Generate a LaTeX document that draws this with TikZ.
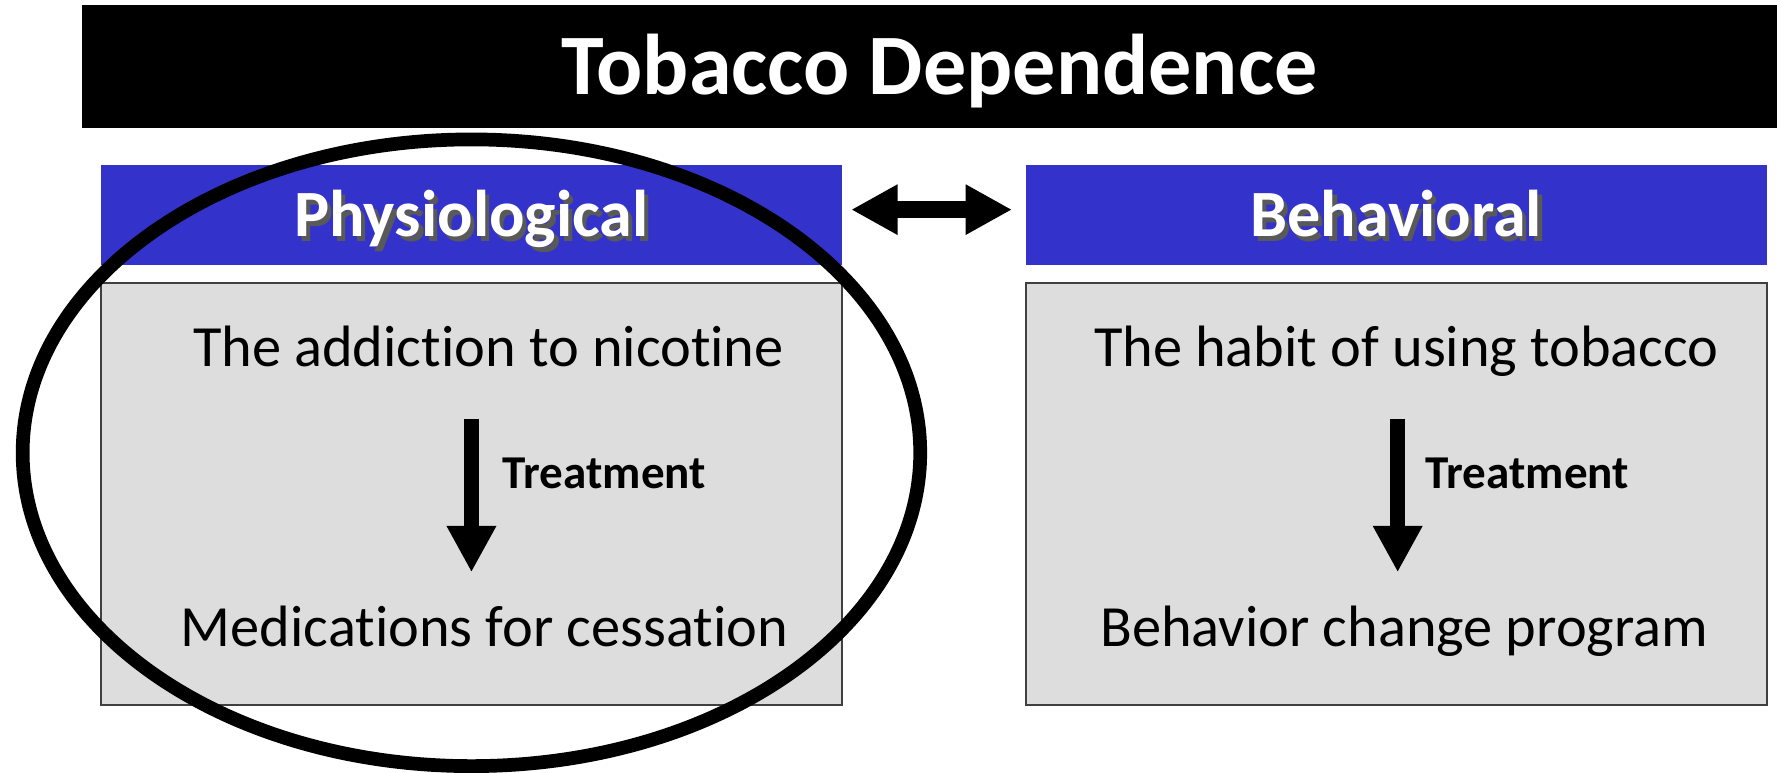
\documentclass[tikz,border=0pt]{standalone}
\usepackage{fontspec}
\setmainfont{Carlito}[Ligatures={NoCommon,NoRequired,NoContextual}]
\usetikzlibrary{
  arrows.meta,
  positioning
}
\definecolor{hdrblue}{RGB}{51,51,204}
\definecolor{panelgray}{RGB}{221,221,221}
\definecolor{edgegray}{RGB}{64,64,64}
\tikzset{
  titlebar/.style={fill=black,text=white,inner sep=0pt,outer sep=0pt,
    minimum width=169.5mm,minimum height=12.27mm,
    font=\fontsize{24.5}{28}\selectfont\bfseries,
    text height=15.9pt,text depth=0pt},
  hdr/.style={fill=hdrblue,text=white,inner sep=0pt,outer sep=0pt,
    minimum width=74.1mm,minimum height=10.02mm,
    font=\fontsize{18.8}{22}\selectfont\bfseries,
    text height=12.25pt,text depth=0pt},
  panel/.style={draw=edgegray,line width=0.5pt,fill=panelgray,
    inner sep=0pt,outer sep=0pt,minimum width=74.1mm,minimum height=42.15mm},
  body/.style={font=\fontsize{16.6}{20}\selectfont,inner sep=0pt,
    text height=12pt,text depth=3.5pt,anchor=base},
  treatlab/.style={font=\fontsize{13.4}{16}\selectfont\bfseries,
    inner sep=0pt,anchor=base west},
  treatflow/.style={-{Triangle[length=13.2pt,width=13.2pt]},line width=4.4pt},
  linkflow/.style={{Triangle[length=13.2pt,width=13.4pt]}-{Triangle[length=13.2pt,width=13.4pt]},
    line width=4.7pt},
  ring/.style={draw=black,line width=3.9pt}
}
\newcommand{\shadowtxt}[1]{\makebox[0pt][l]{\kern1.2pt\raisebox{-1.2pt}{\textcolor{black!65}{#1}}}#1}

\begin{document}
\begin{tikzpicture}[x=0.1133mm,y=-0.1133mm]
  \useasboundingbox (0,0) rectangle (1568,682);
  \node[titlebar] (title) at (820,58.5) {\hspace*{5.8pt}Tobacco Dependence};

  \node[hdr] (hdrL) at (416,190) {\shadowtxt{Physiological}};
  \node[hdr,right=18.35mm of hdrL] (hdrR) {\shadowtxt{Behavioral}};
  \draw[linkflow,shorten <=0.91mm,shorten >=1.36mm]
    ([yshift=0.57mm]hdrL.east)--([yshift=0.57mm]hdrR.west);

  \node[panel,below=1.77mm of hdrL] (panL) {};
  \node[panel,below=1.77mm of hdrR] (panR) {};

  % physiological side
  \node[body] (addL) at (431,323.5) {The addiction to nicotine};
  \node[body] (medL) at (427.5,570.6) {Medications for cessation};
  \coordinate (axL) at (416,0);
  \draw[treatflow,shorten <=3.92mm,shorten >=3.15mm]
    (addL.south -| axL)--(medL.north -| axL);
  \node[treatlab] (trL) at (443,430.6) {Treatment};

  % behavioral side
  \node[body] (habR) at (1241,323.5) {The habit of using tobacco};
  \node[body] (behR) at (1239,570.6) {Behavior change program};
  \coordinate (axR) at (1233.3,0);
  \draw[treatflow,shorten <=3.92mm,shorten >=3.15mm]
    (habR.south -| axR)--(behR.north -| axR);
  \node[treatlab] (trR) at (1257.5,430.6) {Treatment};

  \draw[ring] (416,399.5) ellipse [x radius=396,y radius=276.5];
\end{tikzpicture}
\end{document}
